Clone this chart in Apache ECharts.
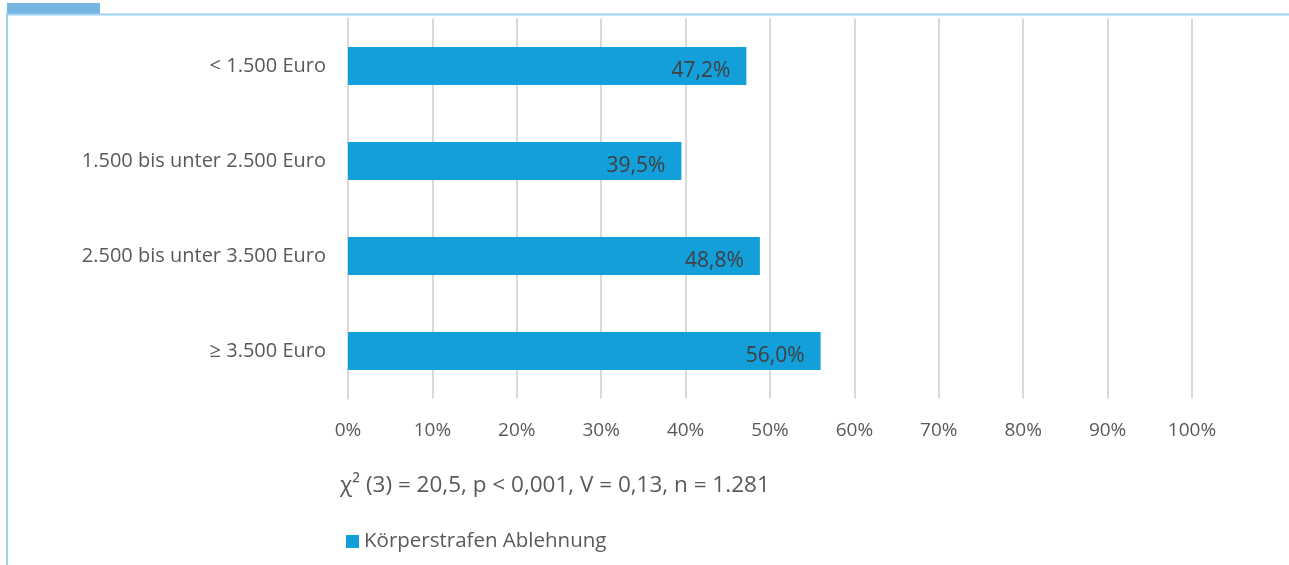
<!DOCTYPE html>
<html><head><meta charset="utf-8">
<script src="https://cdn.jsdelivr.net/npm/echarts@6/dist/echarts.min.js"></script>
<style>html,body{margin:0;padding:0;background:#fff}#c{width:1289px;height:565px}</style>
</head><body><div id="c"></div>
<script>
const categories = ['< 1.500 Euro', '1.500 bis unter 2.500 Euro', '2.500 bis unter 3.500 Euro', '≥ 3.500 Euro'];
const values = [47.2, 39.5, 48.8, 56.0];
const seriesName = 'Körperstrafen Ablehnung';
const statText = 'χ² (3) = 20,5, p < 0,001, V = 0,13, n = 1.281';
const FONT = '"Open Sans", Lato, sans-serif';
const chart = echarts.init(document.getElementById('c'));
chart.setOption({
  animation: false,
  textStyle: { fontFamily: FONT },
  grid: { left: 348, right: 97, top: 18.5, bottom: 166.5 },
  xAxis: {
    type: 'value', min: 0, max: 100, interval: 10,
    axisLabel: { formatter: v => v + '%', color: '#595959', fontSize: 19, margin: 23, fontFamily: FONT },
    splitLine: { show: true, lineStyle: { color: '#d9d9d9', width: 2 } },
    axisLine: { show: false }, axisTick: { show: false }
  },
  yAxis: {
    type: 'category', data: categories, inverse: true,
    axisLabel: { color: '#595959', fontSize: 20, margin: 22, fontFamily: FONT },
    axisLine: { show: true, lineStyle: { color: '#d9d9d9', width: 2 } },
    axisTick: { show: false }
  },
  legend: {
    left: 341, top: 526, itemWidth: 13, itemHeight: 13, itemGap: 6,
    icon: 'rect',
    textStyle: { color: '#595959', fontSize: 20.5, fontFamily: FONT }
  },
  series: [{
    name: seriesName, type: 'bar', data: values, barCategoryGap: '60%',
    itemStyle: { color: '#139fd9' },
    label: {
      show: true, position: 'insideRight', distance: 16, offset: [0, 5],
      formatter: p => p.value.toFixed(1).replace('.', ',') + '%',
      color: '#404040', fontSize: 21, fontFamily: FONT
    }
  }],
  graphic: [
    { type: 'rect', shape: { x: 7, y: 3, width: 93, height: 11 }, style: { fill: '#77b5e2' } },
    { type: 'rect', shape: { x: 6, y: 13.5, width: 1283, height: 2 }, style: { fill: '#9fd1f2' } },
    { type: 'rect', shape: { x: 6, y: 13.5, width: 2, height: 552 }, style: { fill: '#9fd1f2' } },
    { type: 'text', left: 340, top: 474, style: { text: statText, fill: '#595959', font: '22.5px ' + FONT } }
  ]
});
</script></body></html>
